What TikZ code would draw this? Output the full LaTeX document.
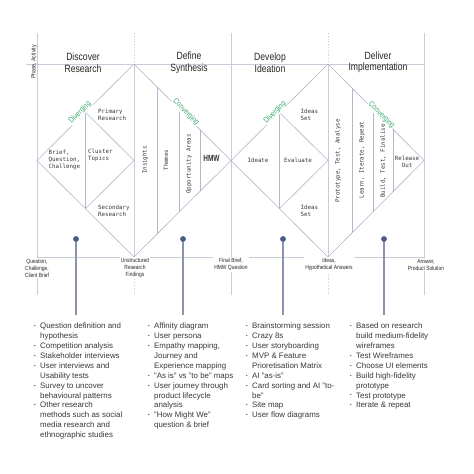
\documentclass[tikz,border=0pt]{standalone}
\usepackage{fontspec}
\setmainfont{Liberation Sans}
\newfontfamily\condf[FakeStretch=0.82]{Liberation Sans}
\newfontfamily\hmwf[FakeStretch=0.72]{Liberation Sans}
\newfontfamily\monof{DejaVu Sans Mono}
\usetikzlibrary{calc}
\definecolor{gridc}{HTML}{C9CBD8}
\definecolor{diac}{HTML}{B3B7CA}
\definecolor{grnc}{HTML}{3DAA6E}
\definecolor{dotc}{HTML}{4B5B86}
\definecolor{stemc}{HTML}{8A93B0}
\definecolor{txtc}{HTML}{383838}
\newcommand\bul{\raisebox{0.25ex}{\fontsize{4.5}{4.5}\selectfont\textbullet}}
\tikzset{
 gridline/.style={draw=gridc, line width=0.8pt},
 griddot/.style={draw=gridc, line width=0.8pt, dotted},
 diagline/.style={draw=diac, line width=0.6pt},
 monotxt/.style={font=\monof\fontsize{5.8}{7}\selectfont, text=txtc, inner sep=0pt, align=left},
 rotmono/.style={monotxt, rotate=90},
 headtxt/.style={font=\condf\fontsize{10.5}{11.5}\selectfont, text=black!85, align=center, inner sep=0pt},
 greentxt/.style={font=\condf\fontsize{8}{8}\selectfont, text=grnc, fill=white, inner sep=0.6pt},
 basetxt/.style={font=\condf\fontsize{6}{7}\selectfont, text=black!85, align=center, fill=white, inner sep=1pt},
 listtxt/.style={font=\fontsize{7.9}{9.9}\selectfont, text=txtc, inner sep=0pt, anchor=north west},
 dotnode/.style={circle, fill=dotc, inner sep=0pt, minimum size=5.5pt},
 stemline/.style={draw=stemc, line width=1.4pt},
}
\begin{document}
\begin{tikzpicture}[x=1pt,y=-1pt]
\fill[white] (0,0) rectangle (474,474);
\useasboundingbox (0,0) rectangle (474,474);

% main coordinates
\coordinate (L) at (37,160.5);
\coordinate (T1) at (134,64);
\coordinate (M) at (231,160.5);
\coordinate (B1) at (134,257);
\coordinate (T2) at (328,64);
\coordinate (R) at (424,160.5);
\coordinate (B2) at (328,257);

% grid columns
\coordinate (g0t) at (37,33);  \coordinate (g0b) at (37,295);
\coordinate (g1t) at (134,33); \coordinate (g1b) at (134,295);
\coordinate (g2t) at (231,33); \coordinate (g2b) at (231,295);
\coordinate (g3t) at (328,33); \coordinate (g3b) at (328,295);
\coordinate (g4t) at (424,33); \coordinate (g4b) at (424,295);
\draw[gridline] (g0t) -- (g0b);
\draw[gridline] (g2t) -- (g2b);
\draw[gridline] (g4t) -- (g4b);
\draw[griddot] (g1t) -- (T1);
\draw[gridline] (T1) -- (B1);
\draw[griddot] (B1) -- (g1b);
\draw[griddot] (g3t) -- (T2);
\draw[gridline] (T2) -- (B2);
\draw[griddot] (B2) -- (g3b);

% header and base lines
\coordinate (hl) at (26,64); \coordinate (hr) at (424,64);
\draw[gridline] (hl) -- (hr);
\coordinate (bl) at (37,257); \coordinate (br) at (424,257);
\draw[gridline] (bl) -- (br);

% diamonds
\draw[diagline] (T1) -- (L) -- (B1) -- (M) -- cycle;
\draw[diagline] (T2) -- (M) -- (B2) -- (R) -- cycle;

% discover inner diamond
\coordinate (d1t) at ($(T1)!0.5!(L)$);
\coordinate (d1b) at ($(L)!0.5!(B1)$);
\coordinate (d1c) at (134,160.5);
\draw[diagline] (d1t) -- (d1b);
\draw[diagline] (d1t) -- (d1c) -- (d1b);

% develop inner diamond
\coordinate (d2t) at ($(T2)!0.5!(M)$);
\coordinate (d2b) at ($(M)!0.5!(B2)$);
\coordinate (d2c) at (328,160.5);
\draw[diagline] (d2t) -- (d2b);
\draw[diagline] (d2t) -- (d2c) -- (d2b);

% define columns
\foreach \t/\n in {0.237/a,0.464/b,0.68/c}{
  \coordinate (df\n t) at ($(T1)!\t!(M)$);
  \coordinate (df\n b) at ($(B1)!\t!(M)$);
  \draw[diagline] (df\n t) -- (df\n b);
}
% deliver columns
\foreach \t/\n in {0.25/a,0.469/b,0.677/c}{
  \coordinate (dl\n t) at ($(T2)!\t!(R)$);
  \coordinate (dl\n b) at ($(B2)!\t!(R)$);
  \draw[diagline] (dl\n t) -- (dl\n b);
}

% headers
\node[headtxt] (h1) at (83,62.5) {Discover\\Research};
\node[headtxt] (h2) at (189,63) {Define\\Synthesis};
\node[headtxt] (h3) at (270,62.5) {Develop\\Ideation};
\node[headtxt] (h4) at (378,62.5) {Deliver\\Implementation};
\node[font=\condf\fontsize{6.2}{6.2}\selectfont, text=black!85, rotate=90, inner sep=0pt] (pa) at (34,62) {Phase, Activity};

% green labels
\node[greentxt, rotate=45] (dv1) at (80,112.5) {Diverging};
\node[greentxt, rotate=-45] (cv1) at (186,112) {Converging};
\node[greentxt, rotate=45] (dv2) at (275,112.5) {Diverging};
\node[greentxt, rotate=-45] (cv2) at (381.5,115) {Converging};

% discover texts
\node[monotxt, anchor=west] (brief) at (48.5,160) {Brief,\\Question,\\Challenge};
\node[monotxt, anchor=west] (clus) at (88,155.5) {Cluster\\Topics};
\node[monotxt, anchor=west] (prim) at (98,114.5) {Primary\\Research};
\node[monotxt, anchor=west] (sec) at (98,210.5) {Secondary\\Research};

% define texts
\node[rotmono] (ins) at (145,160) {Insights};
\node[rotmono] (thm) at (166,160) {Themes};
\node[rotmono] (opp) at (189,164) {Opportunity Areas};
\node[font=\hmwf\bfseries\fontsize{9}{9}\selectfont, text=black!80, inner sep=0pt] (hmw) at (211.5,158.8) {HMW};

% develop texts
\node[monotxt] (idt) at (258,160) {Ideate};
\node[monotxt] (evl) at (298,160) {Evaluate};
\node[monotxt, anchor=west] (ids1) at (300.5,114.5) {Ideas\\Set};
\node[monotxt, anchor=west] (ids2) at (300.5,210.5) {Ideas\\Set};

% deliver texts
\node[rotmono] (pta) at (338,161) {Prototype, Test, Analyse};
\node[rotmono] (lir) at (362,160) {Learn, Iterate, Repeat};
\node[rotmono] (btf) at (383,161) {Build, Test, Finalise};
\node[monotxt, align=center] (rel) at (407,162) {Release\\Out};

% base labels
\node[basetxt] (q1) at (37,268) {Question,\\Challenge,\\Client Brief};
\node[basetxt] (q2) at (135,268) {Unstructured\\Research\\Findings};
\node[basetxt] (q3) at (231,264.5) {Final Brief,\\HMW Question};
\node[basetxt] (q4) at (329,264.5) {Ideas,\\Hypothetical Answers};
\node[basetxt] (q5) at (426,264.5) {Answer,\\Product Solution};

% dots and stems
\foreach \n/\x in {1/76,2/183,3/283,4/384}{
  \node[dotnode] (p\n) at (\x,239) {};
  \coordinate (p\n e) at (\x,315);
  \draw[stemline] (p\n) -- (p\n e);
  \node[dotnode] at (p\n) {};
}

% lists
\node[listtxt] (l1) at (34,321.6) {\begin{tabular}{@{}p{6pt}@{}l@{}}
\bul & Question definition and\\
 & hypothesis\\
\bul & Competition analysis\\
\bul & Stakeholder interviews\\
\bul & User interviews and\\
 & Usability tests\\
\bul & Survey to uncover\\
 & behavioural patterns\\
\bul & Other research\\
 & methods such as social\\
 & media research and\\
 & ethnographic studies
\end{tabular}};
\node[listtxt] (l2) at (148,321.6) {\begin{tabular}{@{}p{6pt}@{}l@{}}
\bul & Affinity diagram\\
\bul & User persona\\
\bul & Empathy mapping,\\
 & Journey and\\
 & Experience mapping\\
\bul & "As is" vs "to be" maps\\
\bul & User journey through\\
 & product lifecycle\\
 & analysis\\
\bul & "How Might We"\\
 & question \& brief
\end{tabular}};
\node[listtxt] (l3) at (246,321.6) {\begin{tabular}{@{}p{6pt}@{}l@{}}
\bul & Brainstorming session\\
\bul & Crazy 8s\\
\bul & User storyboarding\\
\bul & MVP \& Feature\\
 & Prioretisation Matrix\\
\bul & AI "as-is"\\
\bul & Card sorting and AI "to-\\
 & be"\\
\bul & Site map\\
\bul & User flow diagrams
\end{tabular}};
\node[listtxt] (l4) at (350,321.6) {\begin{tabular}{@{}p{6pt}@{}l@{}}
\bul & Based on research\\
 & build medium-fidelity\\
 & wireframes\\
\bul & Test Wireframes\\
\bul & Choose UI elements\\
\bul & Build high-fidelity\\
 & prototype\\
\bul & Test prototype\\
\bul & Iterate \& repeat
\end{tabular}};
\end{tikzpicture}
\end{document}
